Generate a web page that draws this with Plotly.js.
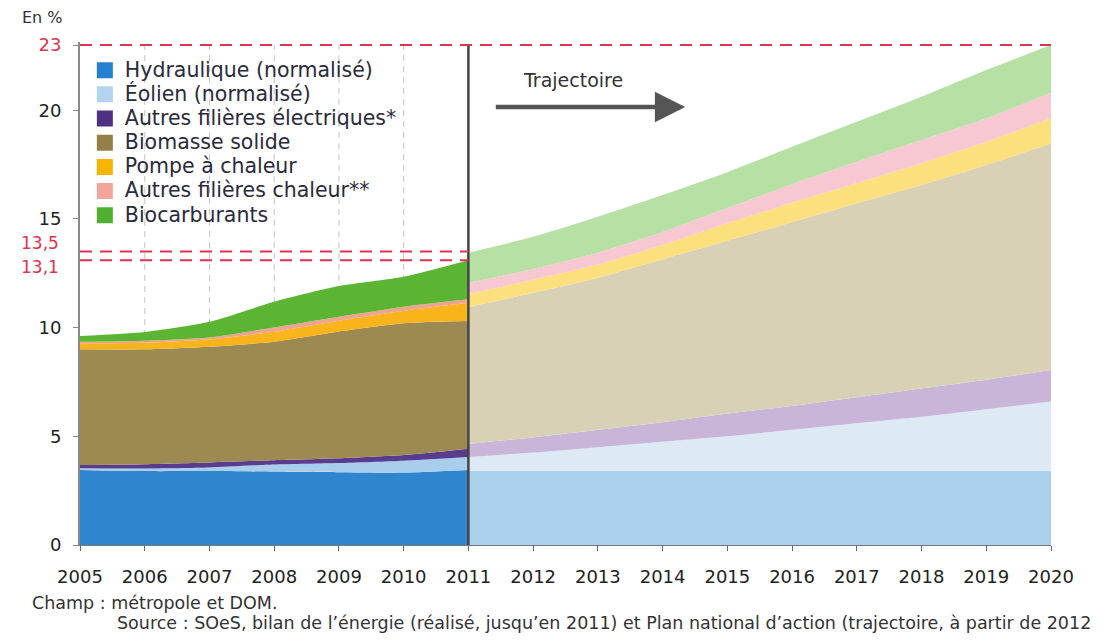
<!DOCTYPE html>
<html>
<head>
<meta charset="utf-8">
<script src="https://cdn.plot.ly/plotly-3.0.1.min.js"></script>
<style>html,body{margin:0;padding:0;background:#fff;}#chart{width:1108px;height:641px;}</style>
</head>
<body>
<div id="chart"></div>
<script>
// ---- Data ----
const seriesNames = ["Hydraulique (normalisé)", "Éolien (normalisé)", "Autres filières électriques*", "Biomasse solide", "Pompe à chaleur", "Autres filières chaleur**", "Biocarburants"];

// Réalisé 2005-2011 (en %)
const yearsReal = [2005, 2006, 2007, 2008, 2009, 2010, 2011];
const hydroReal   = [3.45, 3.40, 3.40, 3.38, 3.35, 3.33, 3.45];
const eolienReal  = [0.08, 0.12, 0.17, 0.32, 0.42, 0.55, 0.60];
const autresElecReal = [0.15, 0.20, 0.23, 0.20, 0.22, 0.26, 0.38];
const biomasseReal = [5.32, 5.28, 5.32, 5.45, 5.83, 6.06, 5.87];
const pacReal     = [0.28, 0.30, 0.34, 0.46, 0.50, 0.58, 0.85];
const autresChalReal = [0.07, 0.10, 0.09, 0.20, 0.18, 0.18, 0.15];
const biocarbReal = [0.26, 0.40, 0.72, 1.18, 1.41, 1.38, 1.80];

// Trajectoire 2011-2020 (en %)
const yearsTraj = [2011, 2012, 2013, 2014, 2015, 2016, 2017, 2018, 2019, 2020];
const hydroTraj   = [3.42, 3.42, 3.42, 3.42, 3.42, 3.42, 3.42, 3.42, 3.42, 3.42];
const eolienTraj  = [0.63, 0.83, 1.08, 1.33, 1.58, 1.88, 2.18, 2.48, 2.83, 3.18];
const autresElecTraj = [0.60, 0.70, 0.80, 0.90, 1.05, 1.10, 1.20, 1.30, 1.35, 1.45];
const biomasseTraj = [6.30, 6.65, 7.00, 7.50, 7.95, 8.45, 8.92, 9.36, 9.88, 10.42];
const pacTraj     = [0.60, 0.60, 0.60, 0.65, 0.80, 0.90, 0.92, 1.00, 1.07, 1.16];
const autresChalTraj = [0.50, 0.50, 0.55, 0.60, 0.70, 0.85, 0.99, 1.07, 1.08, 1.17];
const biocarbTraj = [1.40, 1.48, 1.65, 1.70, 1.65, 1.72, 1.84, 1.99, 2.22, 2.20];

// Objectifs (en %)
const objectif2020 = 23;
const trajectoire2011 = 13.5;
const realise2011 = 13.1;

// Tick labels
const xTickVals = [2005, 2006, 2007, 2008, 2009, 2010, 2011, 2012, 2013, 2014, 2015, 2016, 2017, 2018, 2019, 2020];
const xTickText = ["2005", "2006", "2007", "2008", "2009", "2010", "2011", "2012", "2013", "2014", "2015", "2016", "2017", "2018", "2019", "2020"];
const yTickVals = [0, 5, 10, 15, 20, 23];
const yTickText = ["0", "5", "10", "15", "20", "23"];
const yTickRed  = [false, false, false, false, false, true];
const refLabels = ["13,5", "13,1"];

// ---- Styles ----
const colorsReal = ["#2f86cf", "#a9cdec", "#5a3c8e", "#9c8a52", "#f9b31b", "#f0a48e", "#5bb532"];
const colorsTraj = ["#abd0eb", "#dde9f5", "#c9b5d8", "#d9d1b6", "#fce07e", "#f8c8d2", "#b7e0a4"];
const colorsLegend = ["#2480d0", "#b4d3ee", "#4e3184", "#938046", "#f7b400", "#f2a59b", "#4fb02f"];
const RED = "#dc3550";
const FONT = "DejaVu Sans, sans-serif";

const realData = [hydroReal, eolienReal, autresElecReal, biomasseReal, pacReal, autresChalReal, biocarbReal];
const trajData = [hydroTraj, eolienTraj, autresElecTraj, biomasseTraj, pacTraj, autresChalTraj, biocarbTraj];

const traces = [];
trajData.forEach((vals, i) => {
  traces.push({
    type: "scatter", mode: "lines", x: yearsTraj, y: vals, stackgroup: "traj",
    line: {width: 0, shape: "spline", smoothing: 0.6}, fillcolor: colorsTraj[i],
    showlegend: false, hoverinfo: "skip"
  });
});
realData.forEach((vals, i) => {
  traces.push({
    type: "scatter", mode: "lines", x: yearsReal, y: vals, stackgroup: "real",
    line: {width: 0, shape: "spline", smoothing: 0.6}, fillcolor: colorsReal[i],
    showlegend: false, hoverinfo: "skip"
  });
});
// legend entries (square swatches)
seriesNames.forEach((name, i) => {
  traces.push({
    type: "scatter", mode: "markers", x: [null], y: [null],
    name: '<span style="font-size:20.5px">' + name + '</span>',
    marker: {symbol: "square", size: 16, color: colorsLegend[i]}, showlegend: true
  });
});

const dashRed = {color: RED, width: 2, dash: "12px,8px"};
const shapes = [];
// faint dashed vertical gridlines in the "réalisé" part
[2006, 2007, 2008, 2009, 2010].forEach(x => shapes.push({
  type: "line", xref: "x", yref: "y", x0: x, x1: x, y0: 0, y1: objectif2020, layer: "below",
  line: {color: "#c4c4c4", width: 1, dash: "6px,5px"}
}));
// separation line 2011
shapes.push({type: "line", xref: "x", yref: "y", x0: 2011, x1: 2011, y0: 0, y1: objectif2020, layer: "above",
  line: {color: "#444", width: 2.5}});
// target lines
shapes.push({type: "line", xref: "x", yref: "y", x0: 2005, x1: 2020, y0: objectif2020, y1: objectif2020, layer: "above", line: dashRed});
shapes.push({type: "line", xref: "x", yref: "y", x0: 2005, x1: 2011, y0: trajectoire2011, y1: trajectoire2011, layer: "above", line: dashRed});
shapes.push({type: "line", xref: "x", yref: "y", x0: 2005, x1: 2011, y0: realise2011, y1: realise2011, layer: "above", line: dashRed});

const annotations = [
  {xref: "paper", yref: "paper", x: -0.062, y: 1.048, xanchor: "left", yanchor: "middle",
   text: "En %", showarrow: false, font: {family: FONT, size: 16, color: "#333"}},
  {xref: "paper", yref: "y", x: -0.02, y: trajectoire2011, yshift: 9, xanchor: "right", yanchor: "middle",
   text: refLabels[0], showarrow: false, font: {family: FONT, size: 17, color: RED}},
  {xref: "paper", yref: "y", x: -0.02, y: realise2011, yshift: -7, xanchor: "right", yanchor: "middle",
   text: refLabels[1], showarrow: false, font: {family: FONT, size: 17, color: RED}},
  {xref: "x", yref: "y", x: 2012.62, y: 21.4, xanchor: "center", yanchor: "middle",
   text: "Trajectoire", showarrow: false, font: {family: FONT, size: 19, color: "#333"}},
  {xref: "x", yref: "y", x: 2014.35, y: 20.15, axref: "x", ayref: "y", ax: 2011.4, ay: 20.15,
   text: "", showarrow: true, arrowhead: 2, arrowsize: 1.35, arrowwidth: 4.5, arrowcolor: "#555"},
  {xref: "paper", yref: "paper", x: -0.052, y: -0.116, xanchor: "left", yanchor: "middle",
   text: "Champ : métropole et DOM.", showarrow: false, font: {family: FONT, size: 17.5, color: "#333"}},
  {xref: "paper", yref: "paper", x: 0.036, y: -0.156, xanchor: "left", yanchor: "middle",
   text: "Source : SOeS, bilan de l’énergie (réalisé, jusqu’en 2011) et Plan national d’action (trajectoire, à partir de 2012",
   showarrow: false, font: {family: FONT, size: 17.5, color: "#333"}}
];

const layout = {
  width: 1108, height: 641,
  margin: {l: 80, r: 57, t: 42, b: 96, pad: 0},
  paper_bgcolor: "#fff", plot_bgcolor: "#fff",
  font: {family: FONT, color: "#333"},
  showlegend: true,
  legend: {x: 0.005, y: 0.978, xanchor: "left", yanchor: "top", bgcolor: "rgba(0,0,0,0)",
    traceorder: "normal", font: {family: FONT, size: 16.3, color: "#2a2a3a"}, tracegroupgap: 0, itemwidth: 30},
  xaxis: {
    range: [2005, 2020], tickvals: xTickVals, ticktext: xTickText,
    showgrid: false, zeroline: false, showline: true, linecolor: "#777", linewidth: 1,
    ticks: "outside", ticklen: 5, tickcolor: "#666", ticklabelstandoff: 10,
    tickfont: {family: FONT, size: 18, color: "#222"}, fixedrange: true
  },
  yaxis: {
    range: [0, 23.14], tickvals: yTickVals,
    ticktext: yTickText.map((t, i) => yTickRed[i] ? '<span style="color:' + RED + '">' + t + '</span>' : t),
    showgrid: false, zeroline: false, showline: true, linecolor: "#888", linewidth: 2,
    ticks: "outside", ticklen: 5, tickcolor: "#888", ticklabelstandoff: 8,
    tickfont: {family: FONT, size: 18, color: "#222"}, fixedrange: true
  },
  shapes: shapes,
  annotations: annotations
};

Plotly.newPlot("chart", traces, layout, {displayModeBar: false, staticPlot: true});
</script>
</body>
</html>
